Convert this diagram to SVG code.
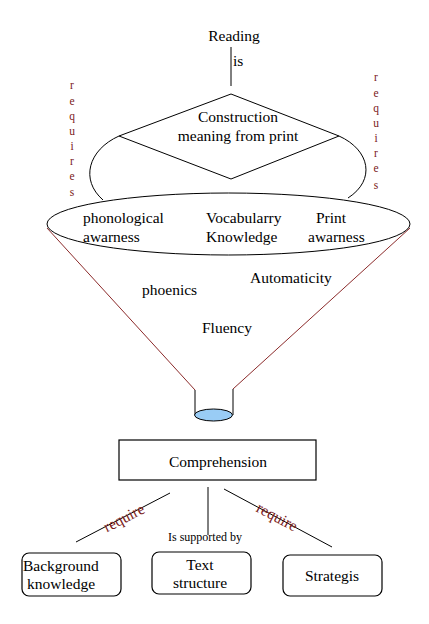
<svg xmlns="http://www.w3.org/2000/svg" width="429" height="624" viewBox="0 0 429 624">
<style>
text{font-family:"Liberation Serif","Times New Roman",serif;font-size:15.5px;fill:#000}
.c{text-anchor:middle}
.red{fill:#7a1a1a}
.let{font-size:11.5px;fill:#7a1a1a;text-anchor:middle}
.sm{font-size:12px}
.ln{stroke:#000;stroke-width:1;fill:none}
.fn{stroke:#8b2a2a;stroke-width:1;fill:none}
.box{fill:#fff;stroke:#000;stroke-width:1.2}
</style>
<rect width="429" height="624" fill="#fff"/>
<g id="connectors">
<line class="ln" x1="231" y1="47" x2="231" y2="86"/>
<path class="ln" d="M119,136 C88,150 80,180 103,200"/>
<path class="ln" d="M339,136 C370,150 376,180 348,198"/>
<line class="fn" x1="47" y1="228" x2="195" y2="390"/>
<line class="fn" x1="410" y1="228" x2="233" y2="389"/>
<line class="ln" x1="195" y1="390" x2="195" y2="415"/>
<line class="ln" x1="233" y1="389" x2="233" y2="415"/>
<line class="ln" x1="170" y1="493" x2="76" y2="542"/>
<line class="ln" x1="208" y1="487" x2="208" y2="535"/>
<line class="ln" x1="224" y1="489" x2="332" y2="547"/>
<text x="233" y="66">is</text>
<g id="req-left">
<text class="let" x="72" y="89">r</text>
<text class="let" x="72" y="105">e</text>
<text class="let" x="72" y="120">q</text>
<text class="let" x="72" y="135">u</text>
<text class="let" x="72" y="150">i</text>
<text class="let" x="72" y="165">r</text>
<text class="let" x="72" y="180">e</text>
<text class="let" x="72" y="196">s</text>
</g>
<g id="req-right">
<text class="let" x="376" y="81">r</text>
<text class="let" x="376" y="97">e</text>
<text class="let" x="376" y="112">q</text>
<text class="let" x="376" y="127">u</text>
<text class="let" x="376" y="142">i</text>
<text class="let" x="376" y="157">r</text>
<text class="let" x="376" y="172">e</text>
<text class="let" x="376" y="189">s</text>
</g>
<text class="c red" x="124" y="523" transform="rotate(-27.5 124 518)">require</text>
<text class="c red" x="277" y="522" transform="rotate(28 277 517)">require</text>
<text class="c sm" x="205" y="541">Is supported by</text>
</g>
<g id="reading"><text class="c" x="234" y="41">Reading</text></g>
<g id="construction">
<polygon class="ln" points="231,94 339,136 231,179 119,136" fill="#fff"/>
<text class="c" x="238" y="122">Construction</text>
<text class="c" x="238" y="141">meaning from print</text>
</g>
<g id="ellipse">
<ellipse cx="228.5" cy="224" rx="181.5" ry="31" class="ln"/>
<text x="83" y="223">phonological</text>
<text x="83" y="242">awarness</text>
<text x="206" y="223">Vocabularry</text>
<text x="206" y="242">Knowledge</text>
<text x="316" y="223">Print</text>
<text x="308" y="242">awarness</text>
</g>
<g id="funnel-items">
<text x="250" y="283">Automaticity</text>
<text x="142" y="295">phoenics</text>
<text x="202" y="333">Fluency</text>
</g>
<g id="spout"><ellipse cx="213.5" cy="415" rx="19" ry="6" fill="#99ccf5" stroke="#000" stroke-width="1"/></g>
<g id="comprehension">
<rect class="box" x="119" y="440" width="197" height="40"/>
<text class="c" x="218" y="467">Comprehension</text>
</g>
<g id="background">
<rect class="box" x="22" y="553" width="99" height="43" rx="7"/>
<text x="23" y="571">Background</text>
<text x="27" y="589">knowledge</text>
</g>
<g id="text-structure">
<rect class="box" x="152" y="552" width="99" height="42" rx="7"/>
<text class="c" x="200" y="570">Text</text>
<text class="c" x="200" y="588">structure</text>
</g>
<g id="strategis">
<rect class="box" x="283" y="555" width="99" height="41" rx="7"/>
<text class="c" x="332" y="581">Strategis</text>
</g>
</svg>
